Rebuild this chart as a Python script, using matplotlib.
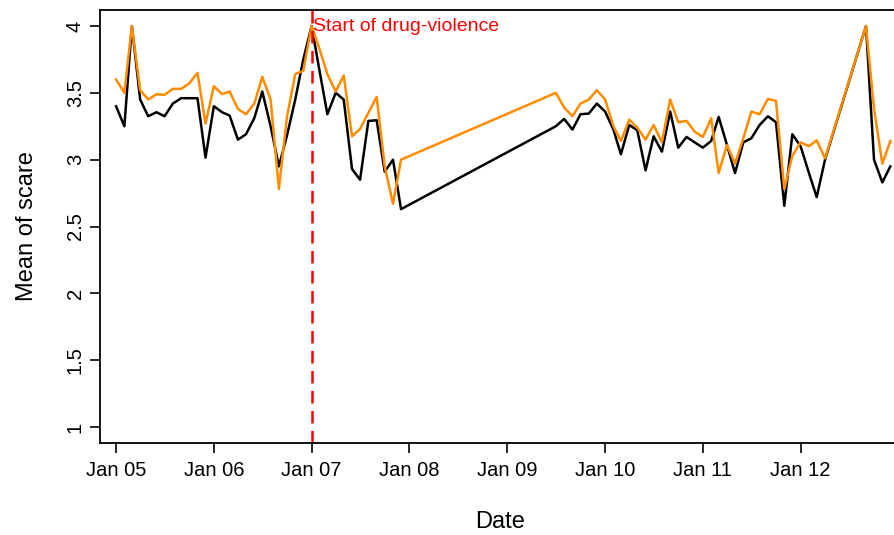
import pandas as pd
import matplotlib
matplotlib.use("Agg")
import matplotlib.pyplot as plt

plt.rcParams['font.family'] = ['Liberation Sans', 'DejaVu Sans']

# monthly survey dates (gap 2008 - mid 2009 and mid 2012)
dates = list(pd.date_range("2005-01-01", "2007-12-01", freq="MS")) + \
        list(pd.date_range("2009-07-01", "2012-04-01", freq="MS")) + \
        list(pd.date_range("2012-09-01", "2012-12-01", freq="MS"))

black_vals = [3.40, 3.25, 4.00, 3.45, 3.325, 3.355, 3.325, 3.42, 3.46, 3.46, 3.46, 3.015,
              3.40, 3.355, 3.33, 3.15, 3.19, 3.31, 3.51, 3.25, 2.95, 3.18, 3.45, 3.75,
              4.00, 3.65, 3.34, 3.50, 3.45, 2.93, 2.85, 3.29, 3.295, 2.91, 3.00, 2.63,
              3.25, 3.305, 3.225, 3.34, 3.345, 3.42,
              3.36, 3.225, 3.04, 3.26, 3.22, 2.92, 3.175, 3.06, 3.36, 3.09, 3.17, 3.13,
              3.09, 3.14, 3.32, 3.11, 2.90, 3.13, 3.16, 3.26, 3.325, 3.28, 2.655, 3.19,
              3.10, 2.90, 2.72, 3.00,
              4.00, 3.00, 2.83, 2.95]

orange_vals = [3.60, 3.50, 4.00, 3.52, 3.45, 3.49, 3.485, 3.53, 3.53, 3.57, 3.65, 3.27,
               3.55, 3.49, 3.51, 3.38, 3.34, 3.42, 3.62, 3.45, 2.78, 3.32, 3.64, 3.665,
               4.00, 3.82, 3.64, 3.51, 3.63, 3.175, 3.23, 3.35, 3.47, 2.95, 2.67, 3.00,
               3.50, 3.39, 3.325, 3.42, 3.45, 3.52,
               3.45, 3.25, 3.14, 3.30, 3.24, 3.15, 3.26, 3.13, 3.45, 3.28, 3.29, 3.21,
               3.17, 3.31, 2.90, 3.11, 2.97, 3.16, 3.36, 3.34, 3.455, 3.44, 2.78, 3.03,
               3.13, 3.10, 3.145, 3.01,
               4.00, 3.38, 2.97, 3.14]

tick_dates = pd.date_range("2005-01-01", "2012-01-01", freq="YS")
tick_labels = ["Jan 05", "Jan 06", "Jan 07", "Jan 08", "Jan 09", "Jan 10", "Jan 11", "Jan 12"]
y_ticks = [1, 1.5, 2, 2.5, 3, 3.5, 4]
y_labels = ["1", "1.5", "2", "2.5", "3", "3.5", "4"]
event_date = pd.Timestamp("2007-01-01")

fig = plt.figure(figsize=(8.94, 5.35), dpi=100)
ax = fig.add_axes([100/894, 1 - 443/535, 800/894, 433/535])

ax.plot(dates, black_vals, color="black", lw=1.8)
ax.plot(dates, orange_vals, color="#ff8c00", lw=1.8)
ax.axvline(event_date, color="red", lw=1.8, ls=(0, (5, 3)))
ax.text(event_date + pd.Timedelta(days=6), 4.0, "Start of drug-violence",
        color="red", fontsize=14, ha="left", va="center")

ax.set_xlim(pd.Timestamp("2004-11-02"), pd.Timestamp("2013-01-06"))
ax.set_ylim(0.88, 4.12)
ax.set_xticks(tick_dates)
ax.set_xticklabels(tick_labels)
ax.set_yticks(y_ticks)
ax.set_yticklabels(y_labels, rotation=90, va="center")
ax.tick_params(axis="both", direction="out", length=7, width=1.2, labelsize=14.5)
ax.tick_params(axis="x", pad=6)
ax.tick_params(axis="y", pad=4)
for s in ax.spines.values():
    s.set_linewidth(1.3)

ax.set_xlabel("Date", fontsize=17, labelpad=22)
ax.set_ylabel("Mean of scare", fontsize=17, labelpad=20)

fig.savefig("out.png", dpi=100)
